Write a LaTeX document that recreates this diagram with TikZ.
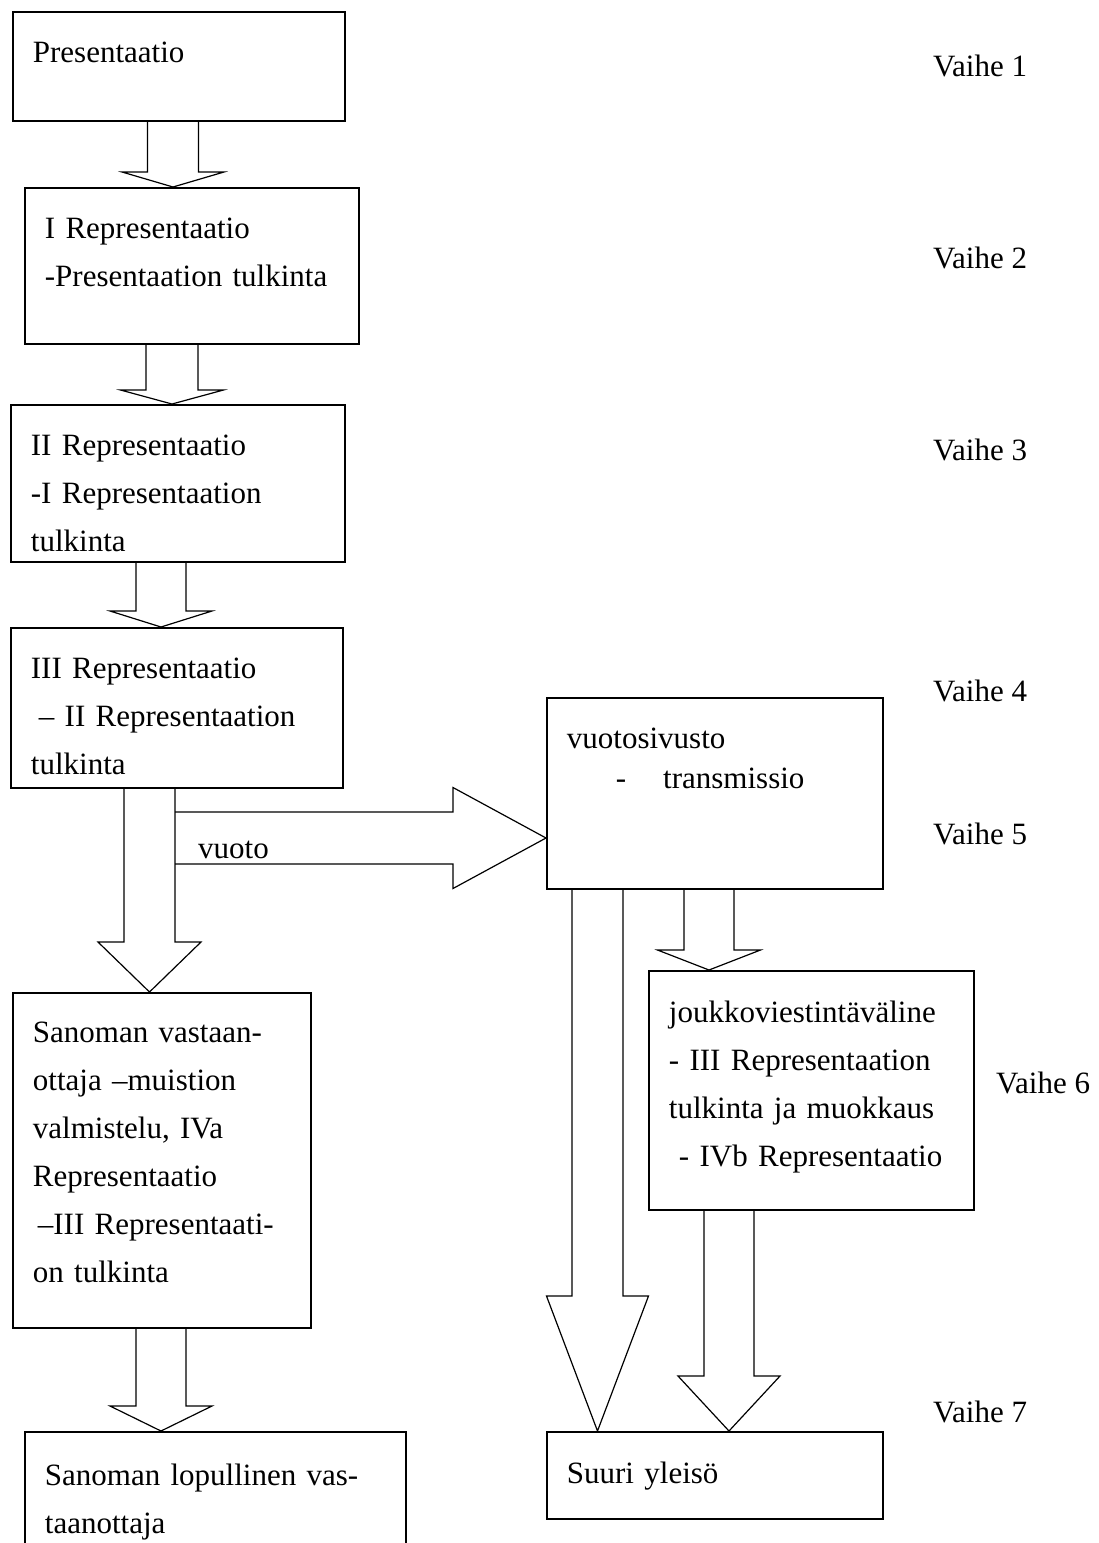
\documentclass[tikz,border=0pt]{standalone}
\usepackage{fontspec}
\setmainfont{Liberation Serif}
\usepackage{tikz}
\usetikzlibrary{calc}

% block arrow: from node, to node, tip x, shaft half width, head half width, head length
\newcommand{\blockdown}[6]{%
  \draw[blk] let \p1=(#1.south), \p2=(#2.north) in
    ({#3-#4},\y1) -- ({#3-#4},\y2+#6pt) -- ({#3-#5},\y2+#6pt) -- (#3,\y2)
    -- ({#3+#5},\y2+#6pt) -- ({#3+#4},\y2+#6pt) -- ({#3+#4},\y1);}

\begin{document}
\begin{tikzpicture}[
  x=1pt, y=-1pt,
  font=\fontsize{31}{48}\selectfont,
  box/.style={draw,line width=1.8pt,anchor=north west,align=left,inner xsep=20pt,inner ysep=0pt},
  blk/.style={line width=1.2pt,line join=miter},
  stage/.style={anchor=base west,inner sep=0pt}
]
\useasboundingbox (0,0) rectangle (1099,1543);
\clip (0,0) rectangle (1099,1543);

% left column
\node[box,text width=292pt,text height=51pt,text depth=58pt] (pres) at (12,11) {Presentaatio};
\node[box,text width=294pt,text height=51pt,text depth=105pt] (rep1) at (24,187) {I Representaatio\\-Presentaation tulkinta};
\node[box,text width=294pt,text height=51pt,text depth=106pt] (rep2) at (10,404) {II Representaatio\\-I Representaation\\tulkinta};
\node[box,text width=292pt,text height=51pt,text depth=109pt] (rep3) at (10,627) {III Representaatio\\\hspace*{8pt}– II Representaation\\tulkinta};
\node[box,text width=258pt,text height=50pt,text depth=285pt] (recv) at (12,992) {Sanoman vastaan-\\ottaja –muistion\\valmistelu, IVa\\Representaatio\\\hspace*{5pt}–III Representaati-\\on tulkinta};
\node[box,text width=341pt,text height=54pt,text depth=150pt] (final) at (24,1431) {Sanoman lopullinen vas-\\taanottaja};

% right column
\node[box,text width=296pt,text height=51pt,text depth=140pt] (site) at (546,697) {vuotosivusto\\[-8pt]\hspace*{49pt}-\hspace{37pt}transmissio};
\node[box,text width=285pt,text height=52pt,text depth=187pt] (media) at (648,970) {joukkoviestintäväline\\- III Representaation\\tulkinta ja muokkaus\\\hspace*{10pt}- IVb Representaatio};
\node[box,text width=296pt,text height=52pt,text depth=35pt] (audience) at (546,1431) {Suuri yleisö};

% stages
\node[stage] (vaihe1) at (933,76) {Vaihe 1};
\node[stage] (vaihe2) at (933,268) {Vaihe 2};
\node[stage] (vaihe3) at (933,460) {Vaihe 3};
\node[stage] (vaihe4) at (933,701) {Vaihe 4};
\node[stage] (vaihe5) at (933,844) {Vaihe 5};
\node[stage] (vaihe6) at (996,1093) {Vaihe 6};
\node[stage] (vaihe7) at (933,1422) {Vaihe 7};

% arrows
\blockdown{pres}{rep1}{173}{25.5}{51}{15}
\blockdown{rep1}{rep2}{172}{26}{51.5}{14}
\blockdown{rep2}{rep3}{161}{25}{51}{16}
\blockdown{rep3}{recv}{149.5}{25.5}{51.5}{50}
\blockdown{recv}{final}{161}{25}{51}{25}
\blockdown{site}{media}{709}{25}{51.5}{20}
\blockdown{site}{audience}{597.5}{25.5}{51}{135}
\blockdown{media}{audience}{729}{25}{51}{55}

\coordinate (vuotoalku) at (175,838);
\draw[blk] let \p1=(vuotoalku), \p2=(site.west) in
  (\x1,\y1+26pt) -- (\x2-93pt,\y1+26pt) -- (\x2-93pt,\y1+50.5pt) -- (\x2,\y1)
  -- (\x2-93pt,\y1-50.5pt) -- (\x2-93pt,\y1-26pt) -- (\x1,\y1-26pt);
\node[stage] (vuotolbl) at (198,858) {vuoto};
\end{tikzpicture}
\end{document}
